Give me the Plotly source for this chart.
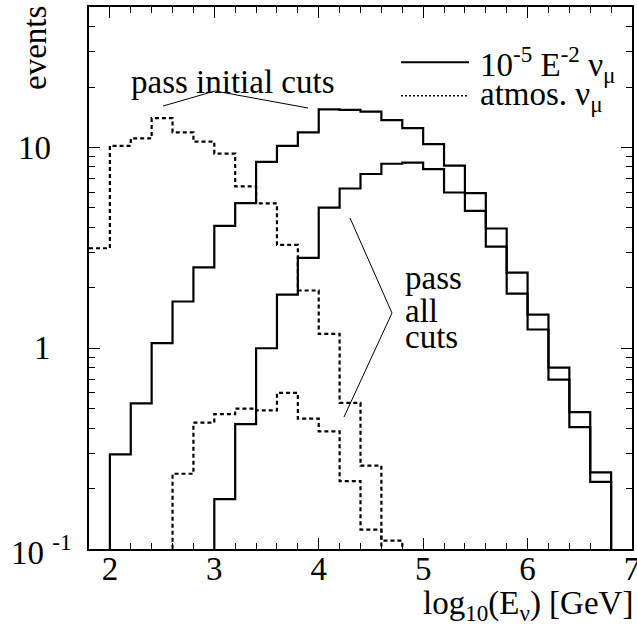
import math
import plotly.graph_objects as go

# ---- data ----
bin_edges = [1.8, 2.0, 2.2, 2.4, 2.6, 2.8, 3.0, 3.2, 3.4, 3.6, 3.8, 4.0, 4.2,
             4.4, 4.6, 4.8, 5.0, 5.2, 5.4, 5.6, 5.8, 6.0, 6.2, 6.4, 6.6, 6.8]

signal_initial = [0, 0.296, 0.531, 1.06, 1.71, 2.53, 4.07, 5.28, 8.49, 10.2, 11.9,
                  15.5, 15.4, 15.1, 13.7, 12.5, 10.4, 8.13, 5.93, 3.95, 2.38, 1.47,
                  0.80, 0.481, 0.241]
signal_all = [0, 0, 0, 0, 0, 0, 0.177, 0.419, 1.0, 1.85, 2.82, 5.02, 6.25, 7.38,
              8.3, 8.4, 7.8, 5.97, 4.84, 3.21, 1.87, 1.24, 0.698, 0.405, 0.216]
atmos_initial = [3.15, 10.2, 11.1, 14.0, 11.9, 10.7, 9.33, 6.4, 5.27, 3.27, 1.94,
                 1.18, 0.535, 0.26, 0.11, 0, 0, 0, 0, 0, 0, 0, 0, 0, 0]
atmos_all = [0, 0, 0, 0, 0.237, 0.426, 0.47, 0.50, 0.49, 0.60, 0.446, 0.385,
             0.218, 0.125, 0, 0, 0, 0, 0, 0, 0, 0, 0, 0, 0]

y_tickvals = [0.1, 1, 10]
y_ticktext = ["10 <sup>-1</sup>", "1", "10"]
x_tickvals = [2, 3, 4, 5, 6, 7]

FONT = "Liberation Serif, Times New Roman, serif"
FS = 33
FLOOR = 1e-4  # empty bins drawn below the visible range


def steps(values):
    ys = [v if v > 0 else FLOOR for v in values] + [FLOOR]
    return bin_edges, ys


fig = go.Figure()
for vals, dash in [(signal_initial, "solid"), (signal_all, "solid"),
                   (atmos_initial, "4px,3px"), (atmos_all, "4px,3px")]:
    xs, ys = steps(vals)
    fig.add_trace(go.Scatter(x=xs, y=ys, mode="lines", line_shape="hv",
                             line=dict(color="black", width=2.2, dash=dash),
                             showlegend=False, hoverinfo="skip"))

W, H = 637, 627
L, R, T, B = 89, 5, 7, 78
pw, ph = W - L - R, H - T - B


def px(x):
    return (x - L) / pw


def py(y):
    return (H - B - y) / ph


shapes = []
# leader lines
for pts in [[(163, 106), (215, 91), (308, 108)], [(350, 218), (392, 313), (344, 417)]]:
    path = "M " + " L ".join(f"{px(a):.4f},{py(b):.4f}" for a, b in pts)
    shapes.append(dict(type="path", path=path, xref="paper", yref="paper",
                       line=dict(color="black", width=1)))
# legend samples
shapes.append(dict(type="line", xref="paper", yref="paper", x0=px(401), x1=px(469),
                   y0=py(62.3), y1=py(62.3), line=dict(color="black", width=2)))
shapes.append(dict(type="line", xref="paper", yref="paper", x0=px(401), x1=px(467),
                   y0=py(95.7), y1=py(95.7), line=dict(color="black", width=1.5, dash="2px,2px")))

tf = dict(family=FONT, size=FS, color="black")
annotations = [
    dict(text="pass initial cuts", x=px(232.5), y=py(82), xref="paper", yref="paper",
         showarrow=False, xanchor="center", yanchor="middle", font=tf),
    dict(text="pass", x=px(403), y=py(278), xref="paper", yref="paper",
         showarrow=False, xanchor="left", yanchor="middle", font=tf),
    dict(text="all", x=px(403), y=py(311), xref="paper", yref="paper",
         showarrow=False, xanchor="left", yanchor="middle", font=tf),
    dict(text="cuts", x=px(403), y=py(337), xref="paper", yref="paper",
         showarrow=False, xanchor="left", yanchor="middle", font=tf),
    dict(text="10<sup>-5</sup> E<sup>-2</sup> ν<sub>μ</sub>", x=px(478), y=py(64),
         xref="paper", yref="paper", showarrow=False, xanchor="left", yanchor="middle", font=tf),
    dict(text="atmos. ν<sub>μ</sub>", x=px(478), y=py(97), xref="paper", yref="paper",
         showarrow=False, xanchor="left", yanchor="middle", font=tf),
    dict(text="events", x=px(35), y=py(48), xref="paper", yref="paper", textangle=-90,
         showarrow=False, xanchor="center", yanchor="middle", font=tf),
    dict(text="log<sub>10</sub>(E<sub>ν</sub>) [GeV]", x=1.0, y=py(605), xref="paper",
         yref="paper", showarrow=False, xanchor="right", yanchor="middle", xshift=3,
         font=tf),
]
# y-axis tick labels (right edges differ as in the reference)
for val, txt in zip(y_tickvals, y_ticktext):
    sup = "<sup>" in txt
    annotations.append(dict(text=txt, x=px(74 if sup else 53), y=math.log10(val),
                            xref="paper", yref="y", showarrow=False, xanchor="right",
                            yanchor="middle", yshift=-1 if sup else 0, font=tf))

axis_common = dict(showline=True, linecolor="black", linewidth=1.5, mirror="allticks",
                   ticks="inside", ticklen=11, tickwidth=1, tickcolor="black",
                   showgrid=False, zeroline=False, automargin=False,
                   tickfont=dict(family=FONT, size=FS, color="black"))

fig.update_layout(
    width=W, height=H, margin=dict(l=L, r=R, t=T, b=B),
    paper_bgcolor="white", plot_bgcolor="white",
    shapes=shapes, annotations=annotations,
    xaxis=dict(range=[1.8, 7.0], tickmode="array", tickvals=x_tickvals,
               minor=dict(dtick=0.2, tick0=0, ticks="inside", ticklen=6,
                          tickcolor="black", tickwidth=1, showgrid=False),
               ticklabelstandoff=-10, ticklabeloverflow="allow", **axis_common),
    yaxis=dict(type="log", range=[-1, 1.7], tickmode="array", tickvals=y_tickvals,
               showticklabels=False,
               minor=dict(dtick="D1", ticks="inside", ticklen=6, tickcolor="black",
                          tickwidth=1, showgrid=False),
               **axis_common),
)

fig.write_html("out.html")
